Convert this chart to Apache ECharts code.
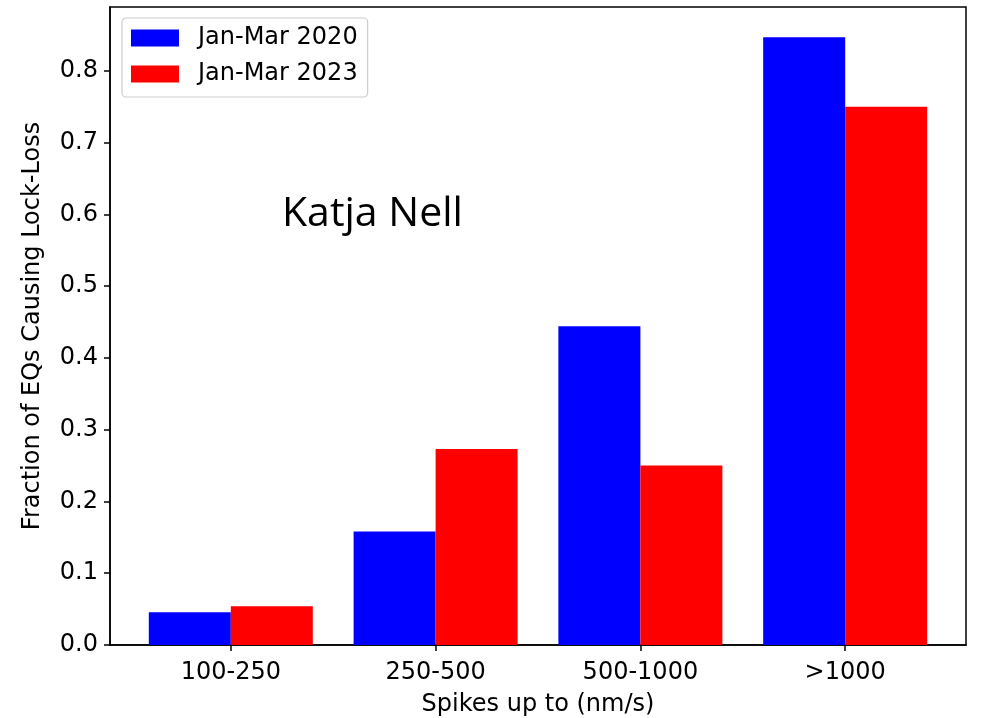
<!DOCTYPE html>
<html>
<head>
<meta charset="utf-8">
<script src="https://cdn.jsdelivr.net/npm/echarts@6/dist/echarts.min.js"></script>
<style>html,body{margin:0;padding:0;background:#fff}#c{width:984px;height:718px}</style>
</head>
<body>
<div id="c"></div>
<script>
var categories = ['100-250', '250-500', '500-1000', '>1000'];
var seriesNames = ['Jan-Mar 2020', 'Jan-Mar 2023'];
var values2020 = [0.0455, 0.158, 0.444, 0.847];
var values2023 = [0.054, 0.273, 0.250, 0.750];
var yTicks = [0, 0.1, 0.2, 0.3, 0.4, 0.5, 0.6, 0.7, 0.8];
var xPositions = [0, 1, 2, 3];

var FONT = 'DejaVu Sans';
var chart = echarts.init(document.getElementById('c'), null, {renderer: 'canvas'});
function pts(vals){ return vals.map(function(v,i){ return [xPositions[i], v]; }); }
chart.setOption({
  animation: false,
  textStyle: {fontFamily: FONT},
  grid: {left: 110, right: 18, top: 7, bottom: 73, outerBoundsMode: 'none', containLabel: false,
    show: true, borderColor: '#000', borderWidth: 1.5, backgroundColor: 'transparent'},
  legend: {
    orient: 'vertical', left: 122, top: 18,
    itemWidth: 48, itemHeight: 17, itemGap: 12,
    padding: [8, 10, 11, 9],
    borderColor: '#cccccc', borderWidth: 1.2, borderRadius: 4,
    backgroundColor: 'rgba(255,255,255,0.8)',
    textStyle: {fontFamily: FONT, fontSize: 24, color: '#000', padding: [0, 0, 0, 14]},
    data: [{name: seriesNames[0], icon: 'rect'}, {name: seriesNames[1], icon: 'rect'}]
  },
  xAxis: {
    type: 'value', min: -0.59, max: 3.59,
    name: 'Spikes up to (nm/s)', nameLocation: 'middle', nameGap: 48,
    nameTextStyle: {fontFamily: FONT, fontSize: 24, color: '#000'},
    axisLine: {show: true, onZero: false, lineStyle: {color: '#000', width: 1.5}},
    axisTick: {show: true, length: 6, customValues: xPositions, lineStyle: {color: '#000', width: 1.5}},
    axisLabel: {show: true, customValues: xPositions, margin: 16, fontFamily: FONT, fontSize: 24, color: '#000',
      formatter: function(v){ return categories[Math.round(v)]; }},
    splitLine: {show: false}
  },
  yAxis: {
    type: 'value', min: 0, max: 0.889,
    name: 'Fraction of EQs Causing Lock-Loss', nameLocation: 'middle', nameGap: 65, nameRotate: 90,
    nameTextStyle: {fontFamily: FONT, fontSize: 24, color: '#000'},
    axisLine: {show: true, onZero: false, lineStyle: {color: '#000', width: 1.5}},
    axisTick: {show: true, length: 6, customValues: yTicks, lineStyle: {color: '#000', width: 1.5}},
    axisLabel: {show: true, customValues: yTicks, margin: 12, fontFamily: FONT, fontSize: 24, color: '#000',
      formatter: function(v){ return v.toFixed(1); }},
    splitLine: {show: false}
  },
  series: [
    {name: seriesNames[0], type: 'bar', data: pts(values2020), barWidth: 82, barGap: '0%',
     itemStyle: {color: '#0000ff'}},
    {name: seriesNames[1], type: 'bar', data: pts(values2023), barWidth: 82, barGap: '0%',
     itemStyle: {color: '#ff0000'}}
  ],
  graphic: [{
    type: 'text', left: 282, top: 194, z: 100,
    style: {text: 'Katja Nell', fontFamily: 'Open Sans', fontSize: 41, fill: '#000'}
  }]
});
</script>
</body>
</html>
